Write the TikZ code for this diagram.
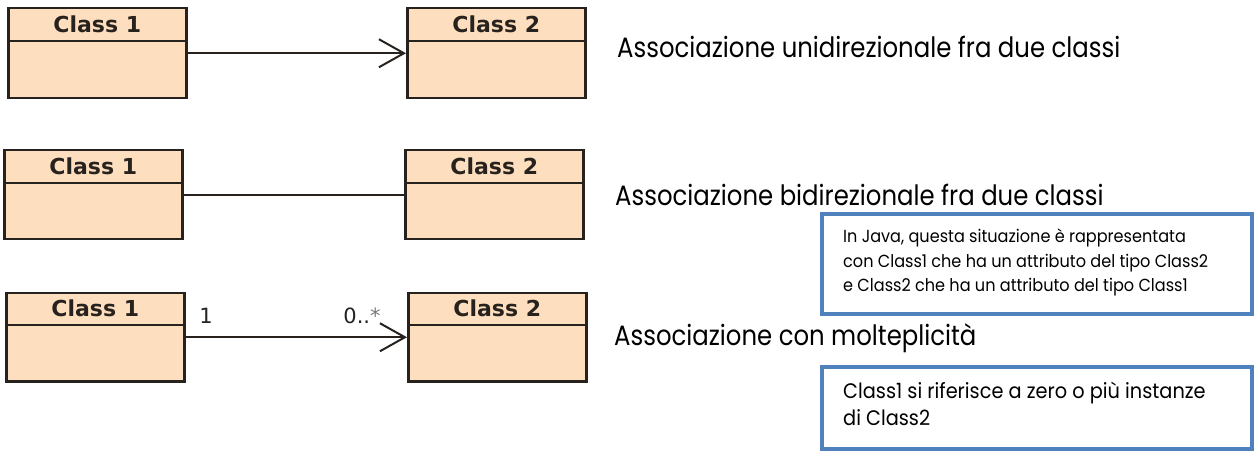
\documentclass[tikz,border=0pt]{standalone}
\usepackage{fontspec}
\usetikzlibrary{arrows.meta}
\newfontfamily\umlfont{DejaVu Sans}
\newfontfamily\captionfont[FakeStretch=0.87]{Poppins}
\newfontfamily\notefont[FakeStretch=0.92]{Poppins}
\definecolor{classfill}{RGB}{253,222,190}
\definecolor{classline}{RGB}{40,34,30}
\definecolor{noteblue}{RGB}{79,129,189}
\definecolor{multgray}{RGB}{120,120,120}
\begin{document}
\begin{tikzpicture}[x=1pt,y=-1pt]
\tikzset{
  classbox/.style={draw=classline, fill=classfill, line width=2.5pt, minimum width=178pt,
    inner sep=0pt, anchor=north west},
  classname/.style={font=\umlfont\bfseries\fontsize{22}{24}\selectfont, text=classline, inner sep=0pt},
  divider/.style={draw=classline, line width=2.5pt},
  assoc/.style={draw=classline, line width=2pt},
  navig/.style={assoc, -{Straight Barb[length=25pt,width=28pt,line width=2pt]}},
  mult/.style={font=\umlfont\fontsize{21}{23}\selectfont, text=classline, inner sep=0pt},
  caption/.style={font=\captionfont\fontsize{28}{31}\selectfont, anchor=base west, inner sep=0pt},
  notebox/.style={draw=noteblue, line width=4pt, fill=white, minimum width=430pt,
    inner sep=0pt, anchor=north west},
  notetext/.style={font=\notefont\fontsize{17.5}{24.5}\selectfont, align=left, anchor=north west, inner sep=0pt},
}
\useasboundingbox (0,0) rectangle (1259,457);

% --- unidirectional association ---
\node[classbox, minimum height=90pt] (a1) at (7,7) {};
\node[classbox, minimum height=90pt] (a2) at (406,7) {};
\draw[divider] ([yshift=-34pt]a1.north west) -- ([yshift=-34pt]a1.north east);
\draw[divider] ([yshift=-34pt]a2.north west) -- ([yshift=-34pt]a2.north east);
\node[classname] (a1t) at ([yshift=-17pt]a1.north) {Class 1};
\node[classname] (a2t) at ([yshift=-17pt]a2.north) {Class 2};
\draw[navig] (a1.east) -- (a2.west);
\node[caption] (capa) at (617,58) {Associazione unidirezionale fra due classi};

% --- bidirectional association ---
\node[classbox, minimum height=89pt] (b1) at (3,149) {};
\node[classbox, minimum height=89pt] (b2) at (404,149) {};
\draw[divider] ([yshift=-34pt]b1.north west) -- ([yshift=-34pt]b1.north east);
\draw[divider] ([yshift=-34pt]b2.north west) -- ([yshift=-34pt]b2.north east);
\node[classname] (b1t) at ([yshift=-17pt]b1.north) {Class 1};
\node[classname] (b2t) at ([yshift=-17pt]b2.north) {Class 2};
\draw[assoc] (b1.east) -- (b2.west);
\node[caption] (capb) at (615,206) {Associazione bidirezionale fra due classi};

% --- association with multiplicity ---
\node[classbox, minimum height=88pt] (c1) at (5,292) {};
\node[classbox, minimum height=88pt] (c2) at (407,292) {};
\draw[divider] ([yshift=-33pt]c1.north west) -- ([yshift=-33pt]c1.north east);
\draw[divider] ([yshift=-33pt]c2.north west) -- ([yshift=-33pt]c2.north east);
\node[classname] (c1t) at ([yshift=-16pt]c1.north) {Class 1};
\node[classname] (c2t) at ([yshift=-16pt]c2.north) {Class 2};
\draw[navig] (c1.east) -- (c2.west);
\node[mult] (m1) at (206,316) {1};
\node[mult] (m2) at (362,316) {0..{\color{multgray}*}};
\node[caption] (capc) at (614,345) {Associazione con molteplicità};

% --- notes ---
\node[notebox, minimum height=100pt] (n1) at (820,212) {};
\node[notetext] (n1t) at (843,229) {In Java, questa situazione è rappresentata\\
con Class1 che ha un attributo del tipo Class2\\
e Class2 che ha un attributo del tipo Class1};
\node[notebox, minimum height=82pt] (n2) at (820,365) {};
\node[notetext, font=\notefont\fontsize{21}{27}\selectfont] (n2t) at (843,382) {Class1 si riferisce a zero o più instanze\\
di Class2};
\end{tikzpicture}
\end{document}
